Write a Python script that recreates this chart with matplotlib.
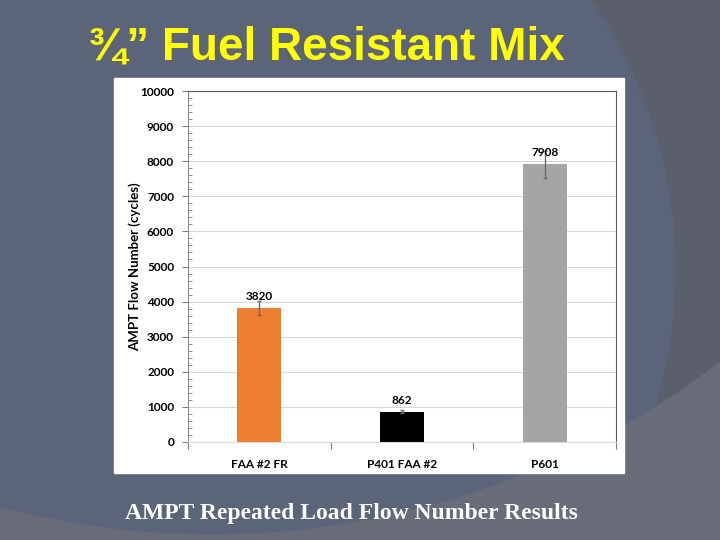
import numpy as np
import matplotlib
matplotlib.use('Agg')
import matplotlib.pyplot as plt
from matplotlib.patches import Circle, Rectangle, Polygon
from matplotlib.ticker import MultipleLocator

# Data
mixes   =['FAA #2 FR','P401 FAA #2','P601']
flowNum =[3820,862,7908]
flowErr =[190,50,380]
colors  =['#ED7D31','#000000','#A5A5A5']

title   ='\u00be\u201d Fuel Resistant Mix'
caption ='AMPT Repeated Load Flow Number Results'
ylabel  ='AMPT Flow Number (cycles)'

W,H=720,540
fig=plt.figure(figsize=(W/100,H/100),dpi=100)

# Slide background (pixel coords)
bg=fig.add_axes([0,0,1,1])
bg.set_xlim(0,W)
bg.set_ylim(H,0)
bg.axis('off')
bg.add_patch(Rectangle((0,0),W,H,color='#5a5f6b',zorder=0))
bg.add_patch(Circle((200,270),475,color='#5b6479',zorder=1))
# lighter band at the bottom (outside a big arc)
xs=np.linspace(0,W,80)
ys=-299+np.sqrt(834**2-(xs-212)**2)
bg.add_patch(Polygon(list(zip(xs,ys))+[(W,H),(0,H)],closed=True,color='#686b78',zorder=2))
# white chart panel
bg.add_patch(Rectangle((114,78),510,395,color='white',zorder=3))

bg.text(88,60,title,color='#ffff00',fontsize=33,fontweight='bold',
        family='Liberation Sans',ha='left',va='baseline',zorder=4)
bg.text(351,519,caption,color='white',fontsize=17,fontweight='bold',
        family='Liberation Serif',ha='center',va='baseline',zorder=4)

# Chart
ax=fig.add_axes([188/W,1-442/H,(616-188)/W,(442-91)/H])
x=np.arange(len(mixes))
ax.bar(x,flowNum,width=0.31,color=colors,zorder=2)
ax.errorbar(x,flowNum,yerr=flowErr,fmt='none',ecolor='#6b6b6b',
            elinewidth=1,capsize=1.5,zorder=3)
for i,v in enumerate(flowNum):
    ax.text(x[i],v+170,'{}'.format(v),ha='center',va='bottom',
            fontsize=8.5,fontweight='bold',family='Lato',zorder=4)

ax.set_xlim(-0.5,2.5)
ax.set_ylim(0,10000)
ax.set_xticks([-0.5,0.5,1.5,2.5])
ax.set_xticklabels([])
ax.set_xticks(x,minor=True)
ax.set_xticklabels(mixes,minor=True,fontsize=8.5,fontweight='bold',family='Lato')
ax.tick_params(axis='x',which='major',length=5,color='#7f7f7f',direction='out')
ax.tick_params(axis='x',which='minor',length=0,pad=12)

ax.yaxis.set_major_locator(MultipleLocator(1000))
ax.yaxis.set_minor_locator(MultipleLocator(200))
ax.tick_params(axis='y',which='major',length=4,color='#7f7f7f',direction='out',pad=6)
ax.tick_params(axis='y',which='minor',length=3,color='#7f7f7f',direction='in')
for lab in ax.get_yticklabels():
    lab.set_fontweight('bold')
    lab.set_fontsize(8.5)
    lab.set_family('Lato')

ax.set_ylabel(ylabel,fontsize=9.5,fontweight='bold',family='Lato',labelpad=-0.5)
ax.grid(axis='y',color='#d9d9d9',linewidth=0.8,zorder=0)
ax.set_axisbelow(True)
ax.spines['left'].set_color('#8c8c8c')
ax.spines['bottom'].set_color('#d9d9d9')
ax.spines['top'].set_color('#595959')
ax.spines['right'].set_color('#595959')

fig.savefig('out.png',dpi=100)
